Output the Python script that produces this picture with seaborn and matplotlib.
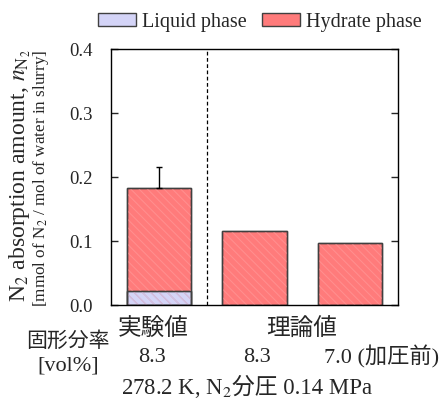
import matplotlib
matplotlib.use("Agg")
import matplotlib.pyplot as plt
import seaborn as sns
import pandas as pd
from matplotlib.patches import Patch, Rectangle

categories = ["exp", "theory1", "theory2"]
liquid = [0.022, 0.0, 0.0]
hydrate = [0.161, 0.116, 0.097]
err_upper = [0.033, 0.0, 0.0]
yticks = [0.0, 0.1, 0.2, 0.3, 0.4]
group_labels = ["実験値", "理論値"]
frac_labels = ["8.3", "8.3", "7.0 (加圧前)"]

sns.set_style("white")
FAM = ['Liberation Serif', 'Noto Sans CJK JP', 'DejaVu Sans']
plt.rcParams['font.family'] = FAM
plt.rcParams['mathtext.fontset'] = 'stix'
plt.rcParams['hatch.linewidth'] = 0.8

total = [l + h for l, h in zip(liquid, hydrate)]
df = pd.DataFrame({"cat": categories, "liquid": liquid, "hydrate": hydrate, "total": total})

W, H = 443, 403
fig = plt.figure(figsize=(W / 100, H / 100), dpi=100)
ax = fig.add_axes([111 / W, 1 - 305 / H, 287 / W, 256 / H])

c_liq = "#d4d4f7"
c_hyd = "#ff7b7b"
h_liq = "#c6c6ee"
h_hyd = "#ff8e8e"
edge = "#404040"

sns.barplot(data=df, x="cat", y="total", order=categories, color=c_hyd, width=0.67,
            edgecolor=edge, linewidth=1.0, saturation=1, ax=ax, errorbar=None)
n_h = len(ax.patches)
sns.barplot(data=df, x="cat", y="liquid", order=categories, color=c_liq, width=0.67,
            edgecolor=edge, linewidth=1.0, saturation=1, ax=ax, errorbar=None)
bars = list(ax.patches)
for k, p in enumerate(bars):
    if p.get_height() == 0:
        p.set_visible(False)
        continue
    z = p.get_zorder()
    hc = h_hyd if k < n_h else h_liq
    ax.add_patch(Rectangle(p.get_xy(), p.get_width(), p.get_height(), facecolor="none",
                           edgecolor=hc, linewidth=0, hatch="\\\\\\\\", zorder=z + 0.01))
for k, p in enumerate(bars):
    if not p.get_visible():
        continue
    ax.add_patch(Rectangle(p.get_xy(), p.get_width(), p.get_height(), facecolor="none",
                           edgecolor=edge, linewidth=1.0, zorder=p.get_zorder() + 0.02))

for i, (t, e) in enumerate(zip(total, err_upper)):
    if e > 0:
        ax.errorbar(i, t, yerr=[[0], [e]], fmt="none", ecolor="black", elinewidth=1.0,
                    capsize=2.2, capthick=1.0, zorder=5)

ax.axvline(0.5, color="black", linestyle=(0, (3, 2)), linewidth=0.9)

ax.set_xlim(-0.5, 2.5)
ax.set_ylim(0, 0.4)
ax.set_yticks(yticks)
ax.set_yticklabels([f"{v:.1f}" for v in yticks], fontsize=13.5)
ax.set_xticks([])
ax.set_xlabel("")
ax.set_ylabel("")
ax.tick_params(axis="y", direction="in", length=5, width=1, right=True, left=True, pad=13.5)
for s in ax.spines.values():
    s.set_visible(True)
    s.set_color("black")
    s.set_linewidth(1.0)
    s.set_zorder(6)

fig.text(20 / W, 1 - 176 / H, r"N$_2$ absorption amount, $n_{\mathrm{N_2}}$", rotation=90,
         ha="center", va="center", fontsize=17)
fig.text(41 / W, 1 - 178 / H, r"[mmol of N$_2$ / mol of water in slurry]", rotation=90,
         ha="center", va="center", fontsize=12.3)

handles = [Patch(facecolor=c_liq, edgecolor=edge, label="Liquid phase"),
           Patch(facecolor=c_hyd, edgecolor=edge, label="Hydrate phase")]
fig.legend(handles=handles, loc="center", bbox_to_anchor=(260 / W, 1 - 22 / H), ncol=2,
           frameon=False, fontsize=14.5, handlelength=1.9, handleheight=0.6,
           columnspacing=0.75, handletextpad=0.3, borderpad=0.2)

# bottom annotations
fs_cjk = 17
fs_num = 16
fig.text(68 / W, 1 - 342 / H, "固形分率", ha="center", va="center", fontsize=15)
fig.text(68 / W, 1 - 366 / H, "[vol%]", ha="center", va="center", fontsize=fs_num)
fig.text(153 / W, 1 - 330 / H, group_labels[0], ha="center", va="center", fontsize=fs_cjk)
fig.text(302 / W, 1 - 330 / H, group_labels[1], ha="center", va="center", fontsize=fs_cjk)
xs_frac = [152, 257, 382]
for xv, lab in zip(xs_frac, frac_labels):
    fig.text(xv / W, 1 - 357 / H, lab, ha="center", va="center", fontsize=fs_num)

# composite caption: 278.2 K, N2分圧 0.14 MPa
renderer = fig.canvas.get_renderer()
parts = ["278.2 K, N$_2$", "分圧 0.14 MPa"]
txts = [fig.text(0, 1 - 394 / H, p, ha="left", va="baseline", fontsize=16.4) for p in parts]
widths = [t.get_window_extent(renderer).width for t in txts]
total_w = sum(widths)
x0 = 247 - total_w / 2
for t, w in zip(txts, widths):
    t.set_x(x0 / W)
    x0 += w

fig.savefig("out.png", dpi=100)
